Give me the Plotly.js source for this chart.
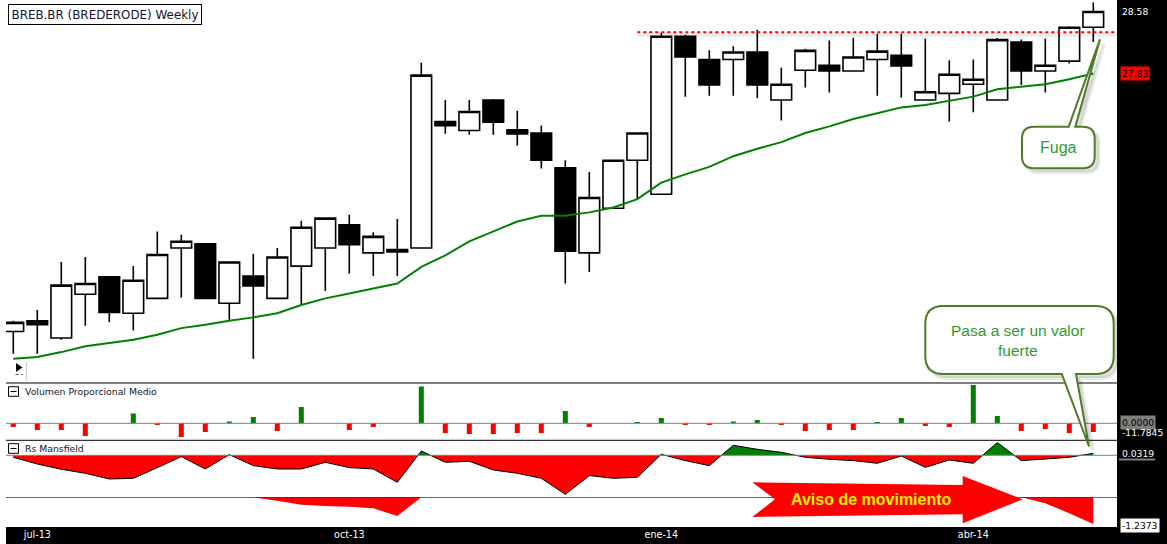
<!DOCTYPE html>
<html><head><meta charset="utf-8">
<script src="https://cdn.plot.ly/plotly-3.0.1.min.js"></script>
<style>html,body{margin:0;padding:0;background:#fff;overflow:hidden}#chart{width:1167px;height:544px}</style>
</head><body><div id="chart"></div>
<script>
// ---------- DATA ----------
const weeks = ['2013-06-24','2013-07-01','2013-07-08','2013-07-15','2013-07-22','2013-07-29','2013-08-05','2013-08-12','2013-08-19','2013-08-26',
  '2013-09-02','2013-09-09','2013-09-16','2013-09-23','2013-09-30','2013-10-07','2013-10-14','2013-10-21','2013-10-28','2013-11-04',
  '2013-11-11','2013-11-18','2013-11-25','2013-12-02','2013-12-09','2013-12-16','2013-12-23','2013-12-30','2014-01-06','2014-01-13',
  '2014-01-20','2014-01-27','2014-02-03','2014-02-10','2014-02-17','2014-02-24','2014-03-03','2014-03-10','2014-03-17','2014-03-24',
  '2014-03-31','2014-04-07','2014-04-14','2014-04-21','2014-04-28','2014-05-05'];
const tickWeeks = ['2013-07-01','2013-09-30','2013-12-30','2014-03-31'];
const tickLabels = ['jul-13','oct-13','ene-14','abr-14'];

const open  = [24.71,24.84,24.63,25.16,25.37,24.93,25.11,25.72,25.77,25.05,25.38,25.11,25.50,25.72,26.00,25.66,25.67,25.72,27.25,27.14,27.51,27.15,27.11,26.69,25.66,26.20,26.78,26.37,28.28,28.00,28.00,28.09,27.51,27.87,27.93,27.86,28.00,28.05,27.51,27.59,27.70,27.51,28.21,27.86,27.98,28.39];
const high  = [24.84,24.97,25.55,25.61,25.38,25.50,25.92,25.88,25.78,25.56,25.65,25.72,26.05,26.09,26.12,25.91,26.07,27.96,27.51,27.51,27.52,27.38,27.20,26.78,26.64,26.79,27.12,28.32,28.30,28.11,28.16,28.36,27.90,28.13,28.23,28.26,28.31,28.31,28.25,27.99,28.00,28.26,28.24,28.25,28.40,28.69];
const low   = [24.44,24.44,24.61,24.78,24.82,24.72,25.10,25.12,25.10,24.85,24.38,25.10,25.04,25.20,25.41,25.38,25.38,25.71,27.10,27.09,27.09,26.96,26.68,25.29,25.43,26.19,26.30,26.36,27.55,27.56,27.56,27.53,27.26,27.66,27.60,27.85,27.56,27.54,27.50,27.25,27.36,27.50,27.69,27.60,27.95,28.21];
const close = [24.82,24.79,25.27,25.29,24.94,25.33,25.64,25.80,25.11,25.55,25.26,25.61,25.97,26.08,25.76,25.86,25.70,27.81,27.20,27.37,27.24,27.10,26.78,25.68,26.33,26.78,27.11,28.28,28.03,27.69,28.09,27.69,27.70,28.11,27.86,28.03,28.10,27.92,27.61,27.82,27.76,28.24,27.86,27.93,28.39,28.58];
const movingAverage = [24.38,24.40,24.46,24.53,24.57,24.61,24.67,24.75,24.79,24.84,24.88,24.93,25.03,25.11,25.17,25.23,25.29,25.49,25.63,25.80,25.92,26.04,26.11,26.11,26.15,26.21,26.31,26.51,26.61,26.70,26.83,26.92,27.00,27.11,27.19,27.28,27.35,27.42,27.45,27.50,27.55,27.64,27.67,27.70,27.76,27.83];
const resistanceLevel = 28.33;
const resistanceFrom = '2013-12-23';

const volumenProporcional = [-5.0,-9.1,-9.1,-17.2,0,13.1,-2.3,-18.5,-11.8,2.3,8.5,-10.4,22.1,0,-9.1,-5.0,0,49.7,-13.1,-14.5,-14.5,-13.1,-13.1,16.7,-5.0,0,1.8,7.2,-2.3,-2.3,2.3,4.5,-2.3,-10.4,-9.1,-9.1,1.8,7.2,-3.6,-5.0,51.9,9.9,-10.4,-7.7,-13.1,-11.7845];
const rsMansfield = [-0.032,-0.139,-0.224,-0.288,-0.379,-0.368,-0.197,-0.021,-0.219,0.011,-0.165,-0.219,-0.219,-0.112,-0.197,-0.219,-0.432,0.069,-0.112,-0.096,-0.235,-0.288,-0.368,-0.624,-0.325,-0.368,-0.352,0.016,-0.085,-0.165,0.160,0.096,0.048,-0.032,-0.064,-0.085,-0.128,-0.011,-0.192,-0.075,-0.128,0.203,-0.085,-0.064,-0.032,0.0319];
const rsMansfieldLower = [0,0,0,0,0,0,0,0,0,0,0,-0.158,-0.343,-0.403,-0.436,-0.510,-0.867,0,0,0,0,0,0,0,0,0,0,0,0,0,0,0,0,0,0,0,0,0,0,0,0,0,0,-0.278,-0.741,-1.2373];

// ---------- GEOMETRY HELPERS ----------
const W = 1167, H = 544, ML = 6, MR = 50, MT = 0, MB = 17;
const PW = W - ML - MR, PH = H - MT - MB;
const px = x => (x - ML) / PW;
const py = y => 1 - (y - MT) / PH;
const P = (x, y) => px(x).toFixed(5) + ',' + py(y).toFixed(5);

const xs = weeks.map((w, i) => i);
const last = a => a[a.length - 1];

function splitSigned(xv, yv) {
  const pos = {x: [], y: []}, neg = {x: [], y: []};
  for (let i = 0; i < yv.length; i++) {
    const v = yv[i];
    pos.x.push(xv[i]); pos.y.push(Math.max(v, 0));
    neg.x.push(xv[i]); neg.y.push(Math.min(v, 0));
    if (i < yv.length - 1) {
      const w = yv[i + 1];
      if ((v > 0 && w < 0) || (v < 0 && w > 0)) {
        const xc = xv[i] + (xv[i + 1] - xv[i]) * v / (v - w);
        pos.x.push(xc); pos.y.push(0);
        neg.x.push(xc); neg.y.push(0);
      }
    }
  }
  return {pos, neg};
}

function calloutPath(x0, y0, x1, y1, r, ptr, dx, dy) {
  dx = dx || 0; dy = dy || 0;
  const Q = (x, y) => P(x + dx, y + dy);
  let d = 'M' + Q(x0 + r, y0);
  if (ptr.edge === 'top') d += ' L' + Q(ptr.a, y0) + ' L' + Q(ptr.tx, ptr.ty) + ' L' + Q(ptr.b, y0);
  d += ' L' + Q(x1 - r, y0) + ' Q' + Q(x1, y0) + ' ' + Q(x1, y0 + r);
  d += ' L' + Q(x1, y1 - r) + ' Q' + Q(x1, y1) + ' ' + Q(x1 - r, y1);
  if (ptr.edge === 'bottom') d += ' L' + Q(ptr.b, y1) + ' L' + Q(ptr.tx, ptr.ty) + ' L' + Q(ptr.a, y1);
  d += ' L' + Q(x0 + r, y1) + ' Q' + Q(x0, y1) + ' ' + Q(x0, y1 - r);
  d += ' L' + Q(x0, y0 + r) + ' Q' + Q(x0, y0) + ' ' + Q(x0 + r, y0) + ' Z';
  return d;
}
function polyPath(pts) {
  return 'M' + pts.map(p => P(p[0], p[1])).join(' L') + ' Z';
}

// ---------- TRACES ----------
const ms = splitSigned(xs, rsMansfield);
const traces = [
  {type: 'candlestick', x: xs, open, high, low, close, xaxis: 'x', yaxis: 'y',
   increasing: {line: {color: '#000', width: 1.6}, fillcolor: '#fff'},
   decreasing: {line: {color: '#000', width: 1.6}, fillcolor: '#000'},
   whiskerwidth: 0, hoverinfo: 'skip', showlegend: false},
  {type: 'scatter', mode: 'lines', x: xs, y: movingAverage, xaxis: 'x', yaxis: 'y',
   line: {color: '#008000', width: 2}, hoverinfo: 'skip', showlegend: false},
  {type: 'bar', x: xs, y: volumenProporcional, xaxis: 'x', yaxis: 'y2', width: 0.21,
   marker: {color: volumenProporcional.map(v => v >= 0 ? '#008000' : '#ff0000'), line: {width: 0}},
   hoverinfo: 'skip', showlegend: false},
  {type: 'scatter', mode: 'none', x: ms.pos.x, y: ms.pos.y, xaxis: 'x', yaxis: 'y3',
   fill: 'tozeroy', fillcolor: '#008000', hoverinfo: 'skip', showlegend: false},
  {type: 'scatter', mode: 'none', x: ms.neg.x, y: ms.neg.y, xaxis: 'x', yaxis: 'y3',
   fill: 'tozeroy', fillcolor: '#ff0000', hoverinfo: 'skip', showlegend: false},
  {type: 'scatter', mode: 'lines', x: xs, y: rsMansfield, xaxis: 'x', yaxis: 'y3',
   line: {color: '#000', width: 1}, hoverinfo: 'skip', showlegend: false},
  {type: 'scatter', mode: 'none', x: xs, y: rsMansfieldLower, xaxis: 'x', yaxis: 'y4',
   fill: 'tozeroy', fillcolor: '#ff0000', hoverinfo: 'skip', showlegend: false}
];

// ---------- LAYOUT ----------
const hidden = {showgrid: false, zeroline: false, showticklabels: false, ticks: '', showline: false, fixedrange: true};
const xRange = [-(13.3 - ML) / 24, (ML + PW - 13.3) / 24];

const fugaBox = [1022, 126.7, 1094.7, 168.3, 12, {edge: 'top', a: 1068.7, b: 1075.3, tx: 1100, ty: 39.3}];
const pasaBox = [925.3, 306, 1113.7, 374, 18, {edge: 'bottom', a: 1061.8, b: 1076, tx: 1089, ty: 446.5}];
const arrowPts = [[752.3, 482.3], [962.7, 485], [962.7, 476], [1022.7, 499.3], [962.7, 523.3], [962.7, 514.3], [752.3, 517], [775, 499.3]];

const shapes = [
  // black axis areas
  {type: 'rect', xref: 'paper', yref: 'paper', x0: px(1117), x1: px(1167), y0: py(527), y1: py(0), fillcolor: '#000', line: {width: 0}, layer: 'below'},
  {type: 'rect', xref: 'paper', yref: 'paper', x0: px(6), x1: px(1167), y0: py(544), y1: py(527), fillcolor: '#000', line: {width: 0}, layer: 'below'},
  // panel separators
  {type: 'line', xref: 'paper', yref: 'paper', x0: 0, x1: 1, y0: py(383), y1: py(383), line: {color: '#000', width: 1}},
  {type: 'line', xref: 'paper', yref: 'paper', x0: 0, x1: 1, y0: py(440.3), y1: py(440.3), line: {color: '#000', width: 1}},
  {type: 'line', xref: 'paper', yref: 'y4', x0: 0, x1: 1, y0: 0, y1: 0, line: {color: '#000', width: 1}},
  // zero lines
  {type: 'line', xref: 'paper', yref: 'y2', x0: 0, x1: 1, y0: 0, y1: 0, line: {color: '#808080', width: 1}},
  {type: 'line', xref: 'paper', yref: 'y3', x0: 0, x1: 1, y0: 0, y1: 0, line: {color: '#808080', width: 1}},
  // resistance line with faint shadow
  {type: 'line', xref: 'x', yref: 'y', x0: weeks.indexOf(resistanceFrom), x1: xRange[1], y0: resistanceLevel - 0.03, y1: resistanceLevel - 0.03, line: {color: 'rgba(0,0,0,0.06)', width: 5}},
  {type: 'line', xref: 'x', yref: 'y', x0: weeks.indexOf(resistanceFrom), x1: xRange[1], y0: resistanceLevel, y1: resistanceLevel, line: {color: '#ff0000', width: 2, dash: 'dot'}},
  // panel header icons
  {type: 'rect', xref: 'paper', yref: 'paper', x0: px(8.5), x1: px(18.5), y0: py(396.3), y1: py(386.7), fillcolor: '#fff', line: {color: '#000', width: 1}},
  {type: 'line', xref: 'paper', yref: 'paper', x0: px(10.5), x1: px(16.5), y0: py(391.5), y1: py(391.5), line: {color: '#000', width: 1}},
  {type: 'rect', xref: 'paper', yref: 'paper', x0: px(8.5), x1: px(18.5), y0: py(453.3), y1: py(443.7), fillcolor: '#fff', line: {color: '#000', width: 1}},
  {type: 'line', xref: 'paper', yref: 'paper', x0: px(10.5), x1: px(16.5), y0: py(448.5), y1: py(448.5), line: {color: '#000', width: 1}},
  // little play icon
  {type: 'path', xref: 'paper', yref: 'paper', path: polyPath([[16, 363], [22.5, 367.5], [16, 372]]), fillcolor: '#000', line: {width: 0}},
  {type: 'line', xref: 'paper', yref: 'paper', x0: px(15.5), x1: px(23), y0: py(374.5), y1: py(374.5), line: {color: '#555', width: 1, dash: 'dot'}},
  {type: 'line', xref: 'paper', yref: 'paper', x0: px(26.3), x1: px(26.3), y0: py(362), y1: py(381), line: {color: '#c8c8c8', width: 1}},
  // underline of 0.0319 label
  {type: 'line', xref: 'paper', yref: 'paper', x0: px(1119), x1: px(1155), y0: py(459.5), y1: py(459.5), line: {color: '#808080', width: 2}},
  // callout shadows
  {type: 'path', xref: 'paper', yref: 'paper', path: calloutPath(...fugaBox, 4, 4), fillcolor: 'rgba(0,0,0,0.10)', line: {color: 'rgba(0,0,0,0.08)', width: 4}},
  {type: 'path', xref: 'paper', yref: 'paper', path: calloutPath(...pasaBox, 4, 4), fillcolor: 'rgba(0,0,0,0.10)', line: {color: 'rgba(0,0,0,0.08)', width: 4}},
  // callouts
  {type: 'path', xref: 'paper', yref: 'paper', path: calloutPath(...fugaBox), fillcolor: '#fff', line: {color: '#4f7a28', width: 2}},
  {type: 'path', xref: 'paper', yref: 'paper', path: calloutPath(...pasaBox), fillcolor: '#fff', line: {color: '#4f7a28', width: 2}},
  // red notched arrow
  {type: 'path', xref: 'paper', yref: 'paper', path: polyPath(arrowPts), fillcolor: '#ff0000', line: {width: 0}}
];

const rightLabel = (text, yref, y, opts) => Object.assign({
  text, xref: 'paper', yref, x: px(1120), y, xanchor: 'left', yanchor: 'middle', showarrow: false,
  font: {family: 'DejaVu Sans', size: 9.2, color: '#fff'}, borderpad: 1
}, opts || {});

const annotations = [
  {text: 'BREB.BR (BREDERODE) Weekly', xref: 'paper', yref: 'paper', x: px(8), y: py(4), xanchor: 'left', yanchor: 'top',
   showarrow: false, bgcolor: '#fff', bordercolor: '#000', borderwidth: 1, borderpad: 2.5,
   font: {family: 'DejaVu Sans', size: 11.9, color: '#14142e'}},
  {text: 'Volumen Proporcional Medio', xref: 'paper', yref: 'paper', x: px(22.5), y: py(391.6), xanchor: 'left', yanchor: 'middle',
   showarrow: false, font: {family: 'DejaVu Sans', size: 9.3, color: '#14142e'}},
  {text: 'Rs Mansfield', xref: 'paper', yref: 'paper', x: px(22.5), y: py(448.6), xanchor: 'left', yanchor: 'middle',
   showarrow: false, font: {family: 'DejaVu Sans', size: 9.3, color: '#14142e'}},
  rightLabel(last(close).toFixed(2), 'y', last(close)),
  rightLabel(last(movingAverage).toFixed(2), 'y', last(movingAverage), {bgcolor: '#ff0000', font: {family: 'DejaVu Sans', size: 9.2, color: '#000'}}),
  rightLabel((0).toFixed(4), 'y2', 0.9, {bgcolor: '#808080', font: {family: 'DejaVu Sans', size: 9.2, color: '#000'}}),
  rightLabel(last(volumenProporcional).toFixed(4), 'y2', last(volumenProporcional) - 1.2),
  rightLabel(last(rsMansfield).toFixed(4), 'y3', last(rsMansfield)),
  rightLabel(last(rsMansfieldLower).toFixed(4), 'y4', last(rsMansfieldLower) - 0.05, {bgcolor: '#fff', font: {family: 'DejaVu Sans', size: 9.2, color: '#000'}}),
  {text: 'Fuga', xref: 'paper', yref: 'paper', x: px((fugaBox[0] + fugaBox[2]) / 2), y: py((fugaBox[1] + fugaBox[3]) / 2),
   xanchor: 'center', yanchor: 'middle', showarrow: false, font: {family: 'Liberation Sans', size: 16, color: '#2f9a2f'}},
  {text: 'Pasa a ser un valor<br>fuerte', xref: 'paper', yref: 'paper', x: px(1018), y: py(340), xanchor: 'center', yanchor: 'middle',
   showarrow: false, font: {family: 'Liberation Sans', size: 15.5, color: '#2f9a2f'}},
  {text: '<b>Aviso de movimiento</b>', xref: 'paper', yref: 'paper', x: px(871.5), y: py(499.3), xanchor: 'center', yanchor: 'middle',
   showarrow: false, font: {family: 'Liberation Sans', size: 16, color: '#ffee00'}}
];

const layout = {
  width: W, height: H, autosize: false,
  margin: {l: ML, r: MR, t: MT, b: MB, pad: 0},
  paper_bgcolor: '#fff', plot_bgcolor: '#fff', showlegend: false,
  boxgap: 0.14, boxgroupgap: 0,
  xaxis: {type: 'linear', range: xRange, anchor: 'y4', showgrid: false, zeroline: false, showline: false, ticks: '',
    tickmode: 'array', tickvals: tickWeeks.map(w => weeks.indexOf(w)), ticktext: tickLabels,
    tickfont: {family: 'DejaVu Sans', size: 9.6, color: '#fff'}, rangeslider: {visible: false}, fixedrange: true, automargin: false},
  yaxis: Object.assign({domain: [py(383), 1], range: [28.719 - 0.012096 * 383, 28.719]}, hidden),
  yaxis2: Object.assign({domain: [py(440.3), py(383)], range: [-(440.3 - 423.3) * 1.354, (423.3 - 383) * 1.354]}, hidden),
  yaxis3: Object.assign({domain: [py(497.3), py(440.3)], range: [-(497.3 - 455.3) * 0.016, (455.3 - 440.3) * 0.016]}, hidden),
  yaxis4: Object.assign({domain: [0, py(497.3)], range: [-(527 - 497.3) * 0.04634, 0.0]}, hidden),
  shapes, annotations
};

Plotly.newPlot('chart', traces, layout, {staticPlot: true, displayModeBar: false});
</script>
</body></html>
